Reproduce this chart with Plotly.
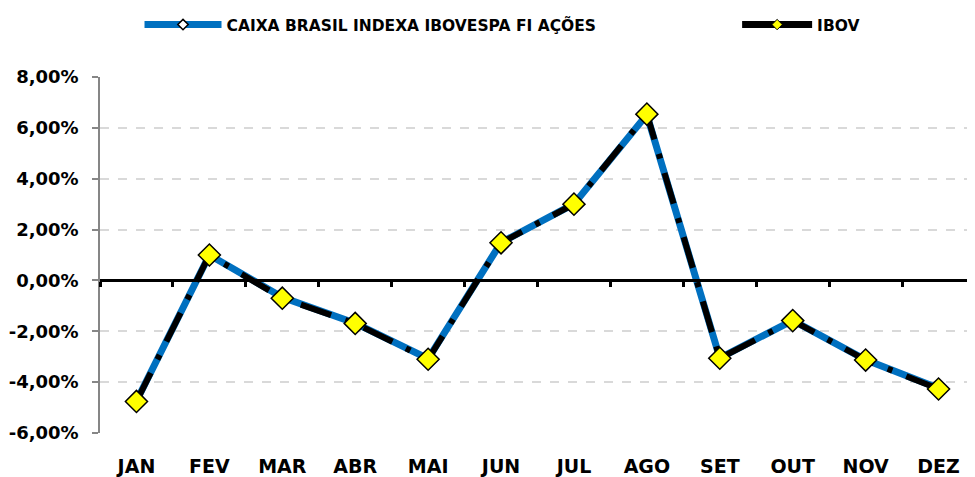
import plotly.graph_objects as go

months = ["JAN", "FEV", "MAR", "ABR", "MAI", "JUN", "JUL", "AGO", "SET", "OUT", "NOV", "DEZ"]
caixa = [-4.74, 1.00, -0.66, -1.68, -3.08, 1.49, 3.01, 6.52, -3.05, -1.57, -3.12, -4.24]
ibov = [-4.76, 1.00, -0.70, -1.69, -3.10, 1.48, 3.00, 6.54, -3.06, -1.58, -3.13, -4.27]
ytick_vals = [-6, -4, -2, 0, 2, 4, 6, 8]
ytick_text = ["-6,00%", "-4,00%", "-2,00%", "0,00%", "2,00%", "4,00%", "6,00%", "8,00%"]

names = ["CAIXA BRASIL INDEXA IBOVESPA FI AÇÕES", "IBOV"]
xi = list(range(len(months)))
FONT = "DejaVu Sans"

fig = go.Figure()
fig.add_trace(go.Scatter(
    x=xi, y=caixa, mode="lines+markers", showlegend=False,
    line=dict(color="#0070C0", width=7),
    marker=dict(symbol="diamond", size=8, color="white", line=dict(color="black", width=1.5)),
))
fig.add_trace(go.Scatter(
    x=xi, y=ibov, mode="lines+markers", showlegend=False,
    line=dict(color="black", width=6, dash="32px,15px,5px,15px"),
    marker=dict(symbol="diamond", size=17, color="#FFFF00", line=dict(color="black", width=1.5)),
))
# legend entries
fig.add_trace(go.Scatter(
    x=[None], y=[None], mode="lines+markers", name=names[0], legend="legend",
    line=dict(color="#0070C0", width=7),
    marker=dict(symbol="diamond", size=8, color="white", line=dict(color="black", width=1.5)),
))
fig.add_trace(go.Scatter(
    x=[None], y=[None], mode="lines+markers", name=names[1], legend="legend2",
    line=dict(color="black", width=7),
    marker=dict(symbol="diamond", size=8, color="#FFFF00", line=dict(color="black", width=1)),
))
# secondary x-axis used only to draw the zero-line ticks
fig.add_trace(go.Scatter(x=[None], y=[None], xaxis="x2", showlegend=False))

y0, y1 = -6, 8
zero_pos = (0 - y0) / (y1 - y0)

legfont = dict(family=FONT, size=15.5, color="black", weight="bold")

fig.update_layout(
    width=967, height=469,
    margin=dict(l=92, r=0, t=69, b=36),
    paper_bgcolor="white", plot_bgcolor="white",
    font=dict(family=FONT, color="black"),
    xaxis=dict(
        range=[-0.5, 11.5], tickvals=xi, ticktext=months,
        showgrid=False, zeroline=False, showline=False, ticks="",
        tickfont=dict(family=FONT, size=19, color="black", weight="bold"),
        ticklabelstandoff=20,
    ),
    xaxis2=dict(
        overlaying="x", anchor="free", position=zero_pos, side="bottom",
        range=[-0.5, 11.5], tickvals=[i - 0.5 for i in range(13)],
        showticklabels=False, showgrid=False, zeroline=False,
        showline=True, linecolor="black", linewidth=3,
        ticks="outside", ticklen=5, tickwidth=3, tickcolor="black",
    ),
    yaxis=dict(
        range=[y0, y1], tickvals=ytick_vals, ticktext=ytick_text,
        showgrid=True, gridcolor="#D9D9D9", gridwidth=1.5, griddash="dash",
        zeroline=False,
        showline=True, linecolor="#868686", linewidth=1.5,
        ticks="outside", ticklen=6, tickcolor="#868686", tickwidth=1.5,
        tickfont=dict(family=FONT, size=18, color="black", weight="bold"),
        ticklabelstandoff=10,
    ),
    legend=dict(
        orientation="h", xref="container", yref="container",
        x=0.136, y=1.0, xanchor="left", yanchor="top",
        itemwidth=77, font=legfont, bgcolor="rgba(0,0,0,0)",
    ),
    legend2=dict(
        orientation="h", xref="container", yref="container",
        x=0.754, y=1.0, xanchor="left", yanchor="top",
        itemwidth=70, font=legfont, bgcolor="rgba(0,0,0,0)",
    ),
)

fig.write_html("out.html")
